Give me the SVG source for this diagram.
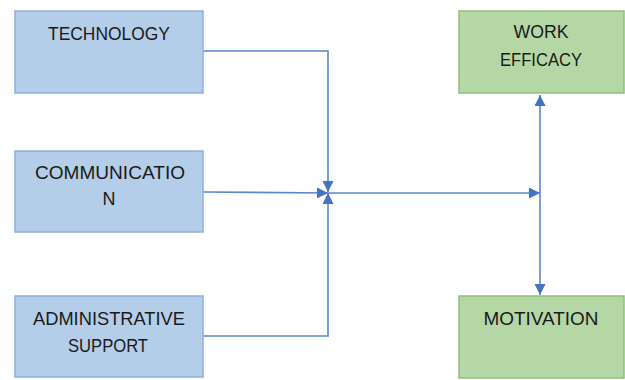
<svg xmlns="http://www.w3.org/2000/svg" width="625" height="380" viewBox="0 0 625 380">
<style>
.blue{fill:#B4CDE9;stroke:#8FB0DC;stroke-width:1.5}
.green{fill:#B5D7A6;stroke:#8CC277;stroke-width:1.5}
.t{font-family:"Liberation Sans",Arial,sans-serif;font-size:18px;fill:#1a1a1a;text-anchor:middle}
.c{fill:none;stroke:#5A87D0;stroke-width:1.6}
</style>
<defs>
<marker id="ah" viewBox="0 0 10 10" refX="10" refY="5" markerWidth="11" markerHeight="11" markerUnits="userSpaceOnUse" orient="auto">
<path d="M0,0 L10,5 L0,10 z" fill="#4472C4"/>
</marker>
</defs>
<rect width="625" height="380" fill="#fff"/>
<g id="connectors">
<path class="c" d="M203,51 L328,51 L328,192" marker-end="url(#ah)"/>
<path class="c" d="M203,192 L328,193" marker-end="url(#ah)"/>
<path class="c" d="M203,336 L328,336 L328,193" marker-end="url(#ah)"/>
<path class="c" d="M328,193 L540,193" marker-end="url(#ah)"/>
<path class="c" d="M540,193 L540,95" marker-end="url(#ah)"/>
<path class="c" d="M540,193 L540,295" marker-end="url(#ah)"/>
</g>
<g id="technology">
<rect class="blue" x="15" y="11" width="188" height="82"/>
<text class="t" x="109" y="40" textLength="122" lengthAdjust="spacingAndGlyphs">TECHNOLOGY</text>
</g>
<g id="communication">
<rect class="blue" x="15" y="151" width="188" height="81"/>
<text class="t" x="110" y="179" textLength="150" lengthAdjust="spacingAndGlyphs">COMMUNICATIO</text>
<text class="t" x="109" y="205">N</text>
</g>
<g id="administrative">
<rect class="blue" x="15" y="296" width="188" height="81"/>
<text class="t" x="109" y="325" textLength="152" lengthAdjust="spacingAndGlyphs">ADMINISTRATIVE</text>
<text class="t" x="108" y="352" textLength="80" lengthAdjust="spacingAndGlyphs">SUPPORT</text>
</g>
<g id="work-efficacy">
<rect class="green" x="459" y="11" width="165" height="82"/>
<text class="t" x="541" y="38" textLength="55" lengthAdjust="spacingAndGlyphs">WORK</text>
<text class="t" x="541" y="66" textLength="82" lengthAdjust="spacingAndGlyphs">EFFICACY</text>
</g>
<g id="motivation">
<rect class="green" x="459" y="296" width="165" height="82"/>
<text class="t" x="541" y="325" textLength="115" lengthAdjust="spacingAndGlyphs">MOTIVATION</text>
</g>
</svg>
